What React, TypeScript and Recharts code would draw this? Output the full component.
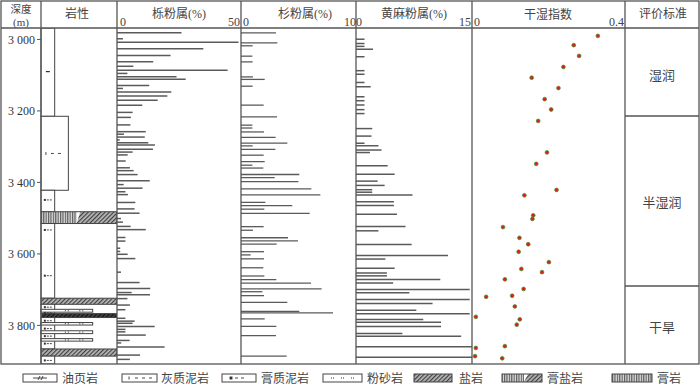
import React from 'react';
import { ComposedChart, Bar, Scatter, XAxis, YAxis, ReferenceArea } from 'recharts';

// ---------------- data ----------------
const DEPTH_DOMAIN: [number, number] = [2968, 3908];
const depthTicks = [3000, 3200, 3400, 3600, 3800];

// 栎粉属 (%)
const quercusDepth = [2982, 2999, 3009, 3027, 3046, 3063, 3076, 3087, 3096, 3105, 3112, 3130, 3138, 3148, 3159, 3171, 3185, 3205, 3219, 3240, 3259, 3266, 3274, 3282, 3290, 3296, 3308, 3316, 3324, 3341, 3360, 3368, 3379, 3396, 3407, 3417, 3427, 3435, 3457, 3475, 3487, 3502, 3512, 3524, 3533, 3555, 3565, 3585, 3594, 3602, 3614, 3652, 3681, 3698, 3709, 3715, 3726, 3744, 3757, 3781, 3789, 3795, 3804, 3812, 3819, 3828, 3843, 3850, 3861, 3884, 3896];
const quercusPct = [26, 2.4, 49, 34.8, 21.6, 14.6, 6.6, 44.6, 4.2, 24, 27.7, 13, 2.4, 21.9, 20.3, 16.4, 10.2, 6.3, 5.6, 5.4, 11.6, 2.8, 11.2, 1.1, 12.6, 15.3, 14.5, 6.3, 4.3, 3.5, 5.2, 6.7, 8.3, 13.2, 2.7, 10.3, 3.4, 4.4, 7.4, 7.1, 9.1, 1.6, 2.4, 5.5, 11.6, 3.4, 3.4, 1.3, 1.3, 4.3, 7.4, 1.6, 9.1, 13.4, 5.9, 13.3, 4.2, 5.2, 3.4, 3.4, 7.1, 6.3, 15.2, 3.4, 3.4, 11.6, 5.1, 1.7, 19.2, 9.3, 5.2];

// 杉粉属 (%)
const taxodDepth = [2982, 3010, 3018, 3047, 3063, 3105, 3112, 3131, 3184, 3217, 3240, 3248, 3259, 3274, 3290, 3298, 3308, 3324, 3342, 3352, 3360, 3378, 3387, 3398, 3418, 3435, 3456, 3465, 3475, 3487, 3524, 3534, 3555, 3564, 3573, 3594, 3603, 3614, 3639, 3662, 3672, 3682, 3698, 3706, 3717, 3736, 3761, 3765, 3782, 3803, 3829, 3886];
const taxodPct = [30.4, 31.6, 10.1, 9.9, 10.1, 10.4, 20.6, 10.1, 19.7, 31.3, 9.9, 9.9, 20, 30.1, 40.3, 10.1, 29.9, 19.7, 20.6, 9.9, 19.4, 50.7, 29.3, 49.9, 61.2, 69, 21.2, 44.6, 20.3, 59.7, 19.7, 10.4, 40.9, 49.6, 31, 20, 8.4, 20, 19.4, 20.3, 30.7, 60.9, 70.1, 18.6, 20, 40.3, 50.7, 80, 20.6, 30.7, 30.4, 39.7];

// 黄麻粉属 (%)
const corchorusDepth = [2998, 3010, 3018, 3026, 3047, 3086, 3096, 3119, 3131, 3159, 3170, 3182, 3195, 3206, 3248, 3269, 3289, 3296, 3308, 3315, 3352, 3376, 3395, 3407, 3419, 3426, 3434, 3453, 3463, 3488, 3522, 3534, 3572, 3603, 3613, 3639, 3652, 3660, 3670, 3680, 3698, 3707, 3726, 3737, 3756, 3766, 3782, 3790, 3802, 3821, 3829, 3858, 3888];
const corchorusPct = [1.1, 1.1, 1.1, 2.2, 1.1, 1.1, 1.1, 1.1, 1.9, 1.1, 1.1, 1.1, 1.1, 1.1, 2.1, 2.0, 1.1, 2.9, 3.3, 1.8, 4.1, 5.0, 2.8, 3.7, 2.1, 2.1, 7.3, 4.9, 4.9, 5.3, 6.4, 2.9, 7.2, 11.9, 3.8, 5.0, 4.0, 4.0, 10.9, 4.8, 14.7, 6.9, 14.7, 9.9, 7.8, 14.7, 8.7, 11.0, 11.0, 6.0, 13.6, 15, 15];

// 干湿指数
const dryDepth = [2990, 3016, 3046, 3077, 3107, 3136, 3167, 3196, 3228, 3316, 3348, 3421, 3436, 3492, 3502, 3525, 3555, 3573, 3594, 3623, 3642, 3651, 3671, 3698, 3717, 3720, 3747, 3776, 3783, 3798, 3858, 3863, 3886, 3892];
const dryIndex = [0.329, 0.266, 0.280, 0.239, 0.156, 0.226, 0.190, 0.207, 0.173, 0.196, 0.168, 0.221, 0.137, 0.160, 0.158, 0.081, 0.124, 0.147, 0.122, 0.201, 0.129, 0.183, 0.086, 0.135, 0.105, 0.037, 0.112, 0.010, 0.125, 0.117, 0.086, 0.010, 0.008, 0.079];

// 岩性 layers
const layerTop = [2968, 3215, 3422, 3482, 3515, 3724, 3741, 3767, 3778, 3866, 3886, 3755, 3792, 3815, 3837];
const layerBottom = [3215, 3422, 3482, 3515, 3724, 3741, 3767, 3778, 3866, 3886, 3908, 3763, 3799, 3823, 3844];
const layerWidth = [0.18, 0.36, 0.18, 1, 0.18, 1, 0.18, 1, 0.18, 1, 0.18, 0.68, 0.68, 0.68, 0.68];
const layerKind = ['plain', 'plain', 'plain', 'gypsalt', 'plain', 'salt', 'plain', 'dark', 'plain', 'salt', 'plain', 'silt', 'silt', 'silt', 'silt'];

// lithology symbols
const symDepth = [3090, 3319, 3449, 3533, 3661, 3749, 3765, 3787, 3809, 3830, 3851, 3898, 3759, 3759, 3795.5, 3795.5, 3819, 3819, 3840.5, 3840.5];
const symPos = [0.09, 0.17, 0.09, 0.09, 0.09, 0.09, 0.09, 0.09, 0.09, 0.09, 0.09, 0.09, 0.34, 0.53, 0.34, 0.53, 0.34, 0.53, 0.34, 0.53];
const symKind = ['oil', 'lime', 'gm', 'gm', 'gm', 'gm', 'gm', 'gm', 'gm', 'gm', 'gm', 'gm', 'dots', 'dots', 'dots', 'dots', 'dots', 'dots', 'dots', 'dots'];

// evaluation
const evalLabels = ['湿润', '半湿润', '干旱'];
const legendLabels = ['油页岩', '灰质泥岩', '膏质泥岩', '粉砂岩', '盐岩', '膏盐岩', '膏岩'];

// ---------------- helpers ----------------
const quercusData = quercusDepth.map((d, i) => ({ depth: d, v: quercusPct[i] }));
const taxodData = taxodDepth.map((d, i) => ({ depth: d, v: taxodPct[i] }));
const corchorusData = corchorusDepth.map((d, i) => ({ depth: d, v: corchorusPct[i] }));
const dryData = dryDepth.map((d, i) => ({ depth: d, v: dryIndex[i] }));
const symData = symDepth.map((d, i) => ({ depth: d, v: symPos[i], kind: symKind[i] }));

const TOP = 28;
const H = 336;
const LINE = '#555';
const TXT = '#444';
const FONT = "'Liberation Serif', 'Noto Sans CJK SC', serif";

const fmtDepth = (v: number) => `${Math.floor(v / 1000)} ${String(v % 1000).padStart(3, '0')}`;

function Patterns() {
  return (
    <svg width={0} height={0} style={{ position: 'absolute' }}>
      <defs>
        <pattern id="salt" width={3} height={3} patternUnits="userSpaceOnUse" patternTransform="rotate(45)">
          <rect width={3} height={3} fill="#b8b8b8" />
          <line x1={0.6} y1={0} x2={0.6} y2={3} stroke="#404040" strokeWidth={1.2} />
        </pattern>
        <pattern id="gyp" width={2.4} height={4} patternUnits="userSpaceOnUse">
          <rect width={2.4} height={4} fill="#dcdcdc" />
          <line x1={0.6} y1={0} x2={0.6} y2={4} stroke="#555" strokeWidth={1.1} />
        </pattern>
        <pattern id="dark" width={3} height={3} patternUnits="userSpaceOnUse" patternTransform="rotate(45)">
          <rect width={3} height={3} fill="#444" />
          <line x1={0.6} y1={0} x2={0.6} y2={3} stroke="#111" strokeWidth={1.2} />
        </pattern>
      </defs>
    </svg>
  );
}

const layerShape = (kind: string) => (p: any) => {
  const { x, y, width, height } = p;
  if (kind === 'gypsalt') {
    const s = x + width * 0.47;
    return (
      <g>
        <rect x={x} y={y} width={width} height={height} fill="#fff" />
        <rect x={x} y={y} width={s - x} height={height} fill="url(#gyp)" />
        <polygon points={`${s + 3.5},${y} ${x + width},${y} ${x + width},${y + height} ${s},${y + height}`} fill="url(#salt)" />
        <rect x={x} y={y} width={width} height={height} fill="none" stroke="#444" strokeWidth={1} />
      </g>
    );
  }
  const fill = kind === 'salt' ? 'url(#salt)' : kind === 'dark' ? 'url(#dark)' : '#fff';
  return <rect x={x} y={y} width={width} height={height} fill={fill} stroke="#444" strokeWidth={1} />;
};

const symShape = (p: any) => {
  const { cx, cy, payload } = p;
  const k = payload.kind;
  const c = '#333';
  if (k === 'oil') return <line x1={cx - 2} y1={cy} x2={cx + 2} y2={cy} stroke={c} strokeWidth={1.2} />;
  if (k === 'lime')
    return (
      <g stroke={c} strokeWidth={0.9}>
        <line x1={cx - 8} y1={cy - 1.5} x2={cx - 8} y2={cy + 1.5} />
        <line x1={cx - 3} y1={cy} x2={cx} y2={cy} />
        <line x1={cx + 4} y1={cy} x2={cx + 7} y2={cy} />
      </g>
    );
  if (k === 'gm')
    return (
      <g>
        <rect x={cx - 4} y={cy - 1} width={2} height={2} fill={c} />
        <line x1={cx - 1} y1={cy} x2={cx + 1} y2={cy} stroke={c} strokeWidth={0.9} />
        <line x1={cx + 2} y1={cy} x2={cx + 4} y2={cy} stroke={c} strokeWidth={0.9} />
      </g>
    );
  if (k === 'dots')
    return (
      <g fill={c}>
        <rect x={cx - 2} y={cy - 0.5} width={1} height={1} />
        <rect x={cx + 1} y={cy - 0.5} width={1} height={1} />
      </g>
    );
  return <g />;
};

const dotShape = (p: any) => (
  <circle cx={p.cx} cy={p.cy} r={1.9} fill="#e0200c" stroke="#3d8f3d" strokeWidth={0.7} />
);

function BarColumn({ left, width, data, max }: { left: number; width: number; data: any[]; max: number }) {
  return (
    <div style={{ position: 'absolute', left, top: TOP }}>
      <ComposedChart width={width} height={H} data={data} layout="vertical" margin={{ top: 0, right: 0, bottom: 0, left: 0 }}>
        <XAxis type="number" dataKey="v" domain={[0, max]} hide allowDataOverflow />
        <YAxis type="number" dataKey="depth" domain={DEPTH_DOMAIN} hide allowDataOverflow />
        <Bar dataKey="v" fill="#5a5a5a" barSize={1.5} isAnimationActive={false} />
      </ComposedChart>
    </div>
  );
}

function Lithology() {
  return (
    <div style={{ position: 'absolute', left: 0, top: TOP }}>
      <ComposedChart width={117} height={H} layout="vertical" margin={{ top: 0, right: 0, bottom: 0, left: 0 }}>
        <XAxis type="number" dataKey="v" domain={[0, 1]} hide allowDataOverflow />
        <YAxis
          type="number"
          dataKey="depth"
          domain={DEPTH_DOMAIN}
          ticks={depthTicks}
          tickFormatter={fmtDepth}
          width={41}
          tickSize={4}
          tickMargin={2}
          axisLine={false}
          tickLine={{ stroke: LINE }}
          tick={{ fontSize: 12, fill: '#333', fontFamily: "'Liberation Serif', serif" }}
          allowDataOverflow
          interval={0}
        />
        {layerTop.map((t, i) => (
          <ReferenceArea
            key={i}
            x1={0}
            x2={layerWidth[i]}
            y1={t}
            y2={layerBottom[i]}
            ifOverflow="visible"
            shape={layerShape(layerKind[i])}
          />
        ))}
        <Scatter data={symData} dataKey="v" shape={symShape} isAnimationActive={false} />
      </ComposedChart>
    </div>
  );
}

function DryColumn() {
  return (
    <div style={{ position: 'absolute', left: 472, top: TOP }}>
      <ComposedChart width={153} height={H} layout="vertical" margin={{ top: 0, right: 0, bottom: 0, left: 0 }}>
        <XAxis type="number" dataKey="v" domain={[0, 0.4]} hide allowDataOverflow />
        <YAxis type="number" dataKey="depth" domain={DEPTH_DOMAIN} hide allowDataOverflow />
        <Scatter data={dryData} dataKey="v" shape={dotShape} isAnimationActive={false} />
      </ComposedChart>
    </div>
  );
}

function Overlay() {
  const legendBoxes = [
    { x: 23, w: 34, tx: 62 },
    { x: 122, w: 35, tx: 161 },
    { x: 222, w: 34, tx: 261 },
    { x: 323, w: 39, tx: 367 },
    { x: 414, w: 38, tx: 459 },
    { x: 502, w: 40, tx: 547 },
    { x: 612, w: 40, tx: 657 },
  ];
  const ly = 374;
  const lh = 8;
  const cols = [41, 117, 241, 356, 472, 625];
  return (
    <svg width={700} height={387} style={{ position: 'absolute', left: 0, top: 0, pointerEvents: 'none' }} fontFamily={FONT}>
      <rect x={1} y={1} width={698} height={363} fill="none" stroke={LINE} strokeWidth={1.3} />
      <line x1={1} y1={28} x2={699} y2={28} stroke={LINE} strokeWidth={1.3} />
      {cols.map((c) => (
        <line key={c} x1={c} y1={1} x2={c} y2={364} stroke={LINE} strokeWidth={1.3} />
      ))}
      <line x1={625} y1={116} x2={699} y2={116} stroke={LINE} strokeWidth={1.3} />
      <line x1={625} y1={286} x2={699} y2={286} stroke={LINE} strokeWidth={1.3} />

      <g fill={TXT} fontSize={12}>
        <text x={21} y={13} textAnchor="middle" fontSize={10.5}>深度</text>
        <text x={21} y={26} textAnchor="middle" fontSize={11}>(m)</text>
        <text x={77} y={18} textAnchor="middle">岩性</text>
        <text x={179} y={18} textAnchor="middle">栎粉属(%)</text>
        <text x={120} y={26}>0</text>
        <text x={240} y={26} textAnchor="end">50</text>
        <text x={305} y={18} textAnchor="middle">杉粉属(%)</text>
        <text x={243} y={26}>0</text>
        <text x={362} y={26} textAnchor="end">100</text>
        <text x={414} y={18} textAnchor="middle">黄麻粉属(%)</text>
        <text x={471} y={26} textAnchor="end">15</text>
        <text x={474} y={26}>0</text>
        <text x={548} y={19} textAnchor="middle">干湿指数</text>
        <text x={624} y={26} textAnchor="end">0.4</text>
        <text x={663} y={18} textAnchor="middle">评价标准</text>
        <text x={662} y={80} textAnchor="middle" fontSize={13}>{evalLabels[0]}</text>
        <text x={662} y={207} textAnchor="middle" fontSize={13}>{evalLabels[1]}</text>
        <text x={662} y={332} textAnchor="middle" fontSize={13}>{evalLabels[2]}</text>
      </g>

      {legendBoxes.map((b, i) => {
        const cy = ly + lh / 2;
        let inner: any = null;
        if (i === 0)
          inner = (
            <g stroke="#333" strokeWidth={0.9}>
              <line x1={b.x + 10} y1={cy} x2={b.x + 24} y2={cy} />
              <line x1={b.x + 15} y1={cy + 2} x2={b.x + 17} y2={cy - 2} />
              <line x1={b.x + 18} y1={cy + 2} x2={b.x + 20} y2={cy - 2} />
            </g>
          );
        if (i === 1)
          inner = (
            <g stroke="#333" strokeWidth={0.9}>
              <line x1={b.x + 7} y1={cy - 1.5} x2={b.x + 7} y2={cy + 1.5} />
              <line x1={b.x + 13} y1={cy} x2={b.x + 16} y2={cy} />
              <line x1={b.x + 20} y1={cy} x2={b.x + 23} y2={cy} />
              <line x1={b.x + 27} y1={cy} x2={b.x + 30} y2={cy} />
            </g>
          );
        if (i === 2)
          inner = (
            <g stroke="#333" strokeWidth={0.9}>
              <rect x={b.x + 8} y={cy - 1} width={2} height={2} fill="#333" />
              <line x1={b.x + 13} y1={cy} x2={b.x + 16} y2={cy} />
              <line x1={b.x + 19} y1={cy} x2={b.x + 22} y2={cy} />
            </g>
          );
        if (i === 3)
          inner = (
            <g fill="#333">
              {[8, 10, 18, 20, 28, 30].map((dx) => (
                <rect key={dx} x={b.x + dx} y={cy - 0.5} width={1} height={1} />
              ))}
            </g>
          );
        let fill = '#fff';
        if (i === 4) fill = 'url(#salt)';
        if (i === 6) fill = 'url(#gyp)';
        return (
          <g key={i}>
            <rect x={b.x} y={ly} width={b.w} height={lh} fill={fill} />
            {i === 5 && (
              <g>
                <rect x={b.x} y={ly} width={b.w * 0.55} height={lh} fill="url(#gyp)" />
                <polygon
                  points={`${b.x + b.w * 0.55 + 4},${ly} ${b.x + b.w},${ly} ${b.x + b.w},${ly + lh} ${b.x + b.w * 0.55},${ly + lh}`}
                  fill="url(#salt)"
                />
              </g>
            )}
            {inner}
            <rect x={b.x} y={ly} width={b.w} height={lh} fill="none" stroke="#444" strokeWidth={1} />
            <text x={b.tx} y={ly + 8.5} fontSize={12} fill={TXT}>{legendLabels[i]}</text>
          </g>
        );
      })}
    </svg>
  );
}

export default function App() {
  return (
    <div style={{ position: 'absolute', left: 0, top: 0, width: 700, height: 387, background: '#fff', fontFamily: FONT }}>
      <Patterns />
      <Lithology />
      <BarColumn left={117} width={124} data={quercusData} max={50} />
      <BarColumn left={241} width={115} data={taxodData} max={100} />
      <BarColumn left={356} width={116} data={corchorusData} max={15} />
      <DryColumn />
      <Overlay />
    </div>
  );
}
